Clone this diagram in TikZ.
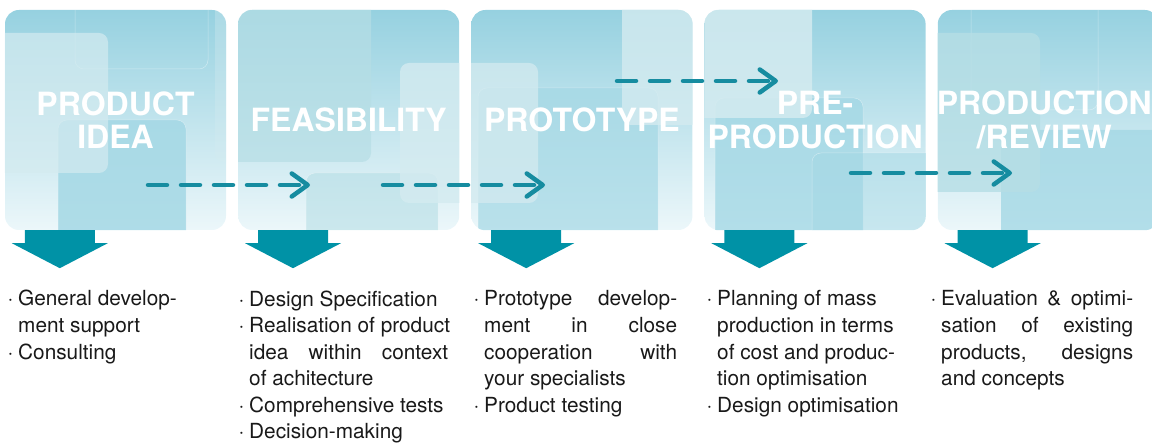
\documentclass[tikz,border=0pt]{standalone}
\usepackage{fontspec}
\setmainfont{TeX Gyre Heros}
\usetikzlibrary{arrows.meta, positioning, calc}

\definecolor{stepteal}{RGB}{0,146,166}
\definecolor{dashteal}{RGB}{22,140,160}
\definecolor{paneltop}{RGB}{150,209,224}
\definecolor{panelbot}{RGB}{236,247,250}
\definecolor{litec}{RGB}{212,235,240}
\definecolor{midc}{RGB}{182,222,229}
\definecolor{deepc}{RGB}{164,216,229}
\definecolor{bodytext}{RGB}{25,25,25}

\newcommand{\bul}{\makebox[10.5pt][l]{·}}
\newcommand{\cnt}{\hspace*{10.5pt}}
\newcommand{\jst}[2]{\makebox[#1][s]{#2}}

\begin{document}
\begin{tikzpicture}[x=1pt, y=-1pt,
    panel/.style={rounded corners=14pt, minimum width=221pt, minimum height=220pt, inner sep=0pt, top color=paneltop, bottom color=panelbot, draw=none},
    head/.style={text=white, font=\bfseries\fontsize{32}{33.5}\selectfont, align=center, inner sep=0pt},
    stepdown/.style={fill=stepteal},
    flow/.style={draw=dashteal, line width=4.5pt, line cap=round, dash pattern=on 19pt off 14pt, -{Straight Barb[length=16pt, width=23pt, round]}},
    body/.style={text=bodytext, font=\fontsize{20.8}{26.6}\selectfont, align=left, inner sep=0pt, anchor=base west},
    lite/.style={fill=litec, rounded corners=9pt},
    midt/.style={fill=midc, rounded corners=9pt},
    deep/.style={fill=deepc, rounded corners=9pt},
    rim/.style={draw=white, draw opacity=0.4, line width=0.5pt, rounded corners=9pt},
    node distance=11.8pt
]
\useasboundingbox (0,0) rectangle (1152,443);

% stage panels
\node[panel] (idea) at (115.5,120) {};
\node[panel, right=of idea] (feas) {};
\node[panel, right=of feas] (proto) {};
\node[panel, right=of proto] (prepro) {};
\node[panel, right=of prepro] (prod) {};

% tinted tiles inside each panel
\begin{scope}
\clip[rounded corners=14pt] (idea.south west) rectangle (idea.north east);
\draw[rim] (75,-10) rectangle (208,69);
\fill[lite, fill opacity=0.35] (215,-10) rectangle (240,162);
\fill[deep, fill opacity=0.85] (58,120) rectangle (186,250);
\draw[rim] (58,120) rectangle (186,250);
\fill[lite, fill opacity=0.7] (-10,33) rectangle (108,173);
\end{scope}
\begin{scope}
\clip[rounded corners=14pt] (feas.south west) rectangle (feas.north east);
\fill[midt, fill opacity=0.7] (220,-10) rectangle (371,162);
\fill[midt, fill opacity=0.6] (306,173) rectangle (438,250);
\draw[rim] (306,173) rectangle (438,250);
\fill[lite, fill opacity=0.8] (400,63) rectangle (470,203);
\end{scope}
\begin{scope}
\clip[rounded corners=14pt] (proto.south west) rectangle (proto.north east);
\fill[deep, fill opacity=0.7] (478,88) rectangle (658,250);
\draw[rim] (478,88) rectangle (658,250);
\fill[lite, fill opacity=0.75] (460,63) rectangle (538,203);
\fill[lite, fill opacity=0.8] (622,-10) rectangle (700,125);
\end{scope}
\begin{scope}
\clip[rounded corners=14pt] (prepro.south west) rectangle (prepro.north east);
\fill[deep, fill opacity=0.8] (715,98) rectangle (863,250);
\draw[rim] (715,98) rectangle (863,250);
\fill[deep, fill opacity=0.5] (812,153) rectangle (940,250);
\draw[rim] (812,153) rectangle (940,250);
\fill[lite, fill opacity=0.85] (690,-10) rectangle (812,118);
\end{scope}
\begin{scope}
\clip[rounded corners=14pt] (prod.south west) rectangle (prod.north east);
\draw[rim] (971,-10) rectangle (1098,110);
\fill[deep, fill opacity=0.8] (1001,130) rectangle (1170,250);
\fill[midt, fill opacity=0.8] (920,33) rectangle (1040,192);
\end{scope}

% headings
\node[head] (ideah) at (idea) {PRODUCT\\IDEA};
\node[head] (feash) at (feas) {FEASIBILITY};
\node[head] (protoh) at (proto) {PROTOTYPE};
\node[head] (preproh) at (prepro) {PRE-\\PRODUCTION};
\node[head] (prodh) at ([xshift=-4pt]prod.center) {PRODUCTION\\/REVIEW};

% arrows down to the task lists
\foreach \p in {idea,feas,proto,prepro,prod}
  \fill[stepdown] ($(\p.south west)+(20,0)$) -- ++(70,0) -- ++(0,13) -- ++(13,0)
    -- ($(\p.south west)+(55,38)$) -- ($(\p.south west)+(7,13)$) -- ++(13,0) -- cycle;

% dashed flow between stages
\coordinate (f1a) at (148,185);
\coordinate (f1b) at (310,185);
\coordinate (f2a) at (383,185);
\coordinate (f2b) at (545,185);
\coordinate (f3a) at (617,81);
\coordinate (f3b) at (778,81);
\coordinate (f4a) at (851,173);
\coordinate (f4b) at (1012,173);
\draw[flow] (f1a) -- (f1b);
\draw[flow] (f2a) -- (f2b);
\draw[flow] (f3a) -- (f3b);
\draw[flow] (f4a) -- (f4b);

% task lists (base = last line)
\node[body] (ideatx) at (7.5,359.2) {\bul General develop-\\\cnt ment support\\\bul Consulting};
\node[body] (feastx) at (238.5,439) {\bul Design Specification\\\bul Realisation of product\\\cnt\jst{199pt}{idea within context}\\\cnt of achitecture\\\bul Comprehensive tests\\\bul Decision-making};
\node[body] (prototx) at (473.5,412.4) {\bul\jst{193pt}{Prototype develop-}\\\cnt\jst{193pt}{ment in close}\\\cnt\jst{193pt}{cooperation with}\\\cnt your specialists\\\bul Product testing};
\node[body] (preprotx) at (706.5,412.4) {\bul Planning of mass\\\cnt production in terms\\\cnt of cost and produc-\\\cnt tion optimisation\\\bul Design optimisation};
\node[body] (prodtx) at (930.5,385.8) {\bul\jst{192pt}{Evaluation \& optimi-}\\\cnt\jst{192pt}{sation of existing}\\\cnt\jst{192pt}{products, designs}\\\cnt and concepts};
\end{tikzpicture}
\end{document}
